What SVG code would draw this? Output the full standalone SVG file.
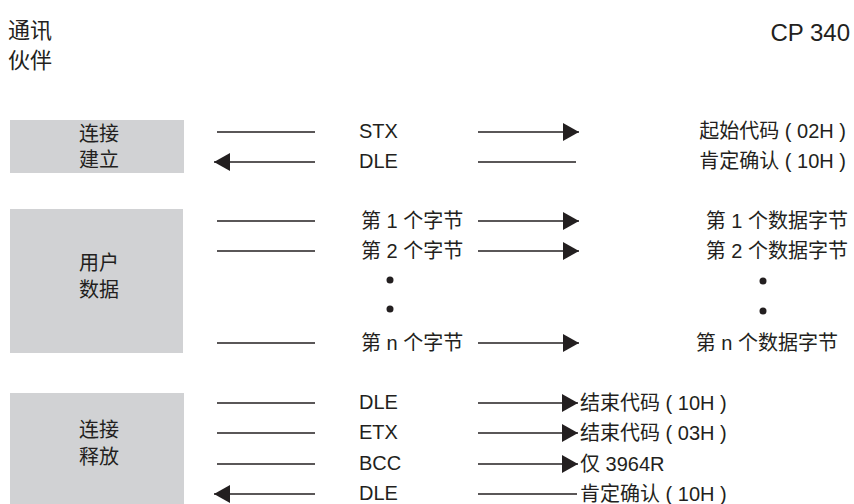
<svg xmlns="http://www.w3.org/2000/svg" width="854" height="504" viewBox="0 0 854 504">
<defs>
<marker id="ah" viewBox="0 0 16 18" refX="16" refY="9" markerWidth="16" markerHeight="18" markerUnits="userSpaceOnUse" orient="auto">
<path d="M0,0 L16,9 L0,18 Z" fill="#231f20"/>
</marker>
<style>
text{font-family:"Liberation Sans","Noto Sans CJK SC",sans-serif;fill:#231f20;font-size:20px}
.hd{font-size:22px}
.cp{font-size:24px}
.box{fill:#d1d2d4}
.ln{stroke:#231f20;stroke-width:1.3;fill:none}
.arr{stroke:#231f20;stroke-width:1.3;fill:none;marker-end:url(#ah)}
.c{text-anchor:middle}
.r{text-anchor:end}
</style>
</defs>
<g id="header">
<text class="hd" x="8" y="38">通讯</text>
<text class="hd" x="8" y="68">伙伴</text>
<text class="cp r" x="850" y="41">CP 340</text>
</g>
<g id="setup">
<rect class="box" x="10" y="120" width="174" height="53"/>
<text class="c" x="99" y="141">连接</text>
<text class="c" x="99" y="167">建立</text>
</g>
<g id="userdata">
<rect class="box" x="10" y="209" width="173" height="144"/>
<text class="c" x="99" y="270">用户</text>
<text class="c" x="99" y="297">数据</text>
</g>
<g id="release">
<rect class="box" x="10" y="393" width="174" height="111"/>
<text class="c" x="99" y="437">连接</text>
<text class="c" x="99" y="464">释放</text>
</g>
<g id="connectors">
<line class="ln" x1="217" y1="132" x2="315" y2="132"/>
<line class="arr" x1="315" y1="162" x2="214" y2="162"/>
<line class="arr" x1="478" y1="132" x2="579" y2="132"/>
<line class="ln" x1="478" y1="162" x2="576" y2="162"/>
<line class="ln" x1="217" y1="221" x2="315" y2="221"/>
<line class="ln" x1="217" y1="251" x2="315" y2="251"/>
<line class="ln" x1="217" y1="343" x2="315" y2="343"/>
<line class="arr" x1="478" y1="221" x2="579" y2="221"/>
<line class="arr" x1="478" y1="251" x2="579" y2="251"/>
<line class="arr" x1="478" y1="343" x2="579" y2="343"/>
<line class="ln" x1="217" y1="403" x2="315" y2="403"/>
<line class="ln" x1="217" y1="433" x2="315" y2="433"/>
<line class="ln" x1="217" y1="464" x2="315" y2="464"/>
<line class="arr" x1="315" y1="494" x2="214" y2="494"/>
<line class="arr" x1="478" y1="403" x2="578" y2="403"/>
<line class="arr" x1="478" y1="433" x2="578" y2="433"/>
<line class="arr" x1="478" y1="464" x2="578" y2="464"/>
<line class="ln" x1="478" y1="494" x2="577" y2="494"/>
</g>
<g id="labels">
<text x="359" y="138">STX</text>
<text x="359" y="168">DLE</text>
<text class="r" x="846" y="138">起始代码 ( 02H )</text>
<text class="r" x="846" y="168">肯定确认 ( 10H )</text>
<text x="361" y="228">第 1 个字节</text>
<text x="361" y="258">第 2 个字节</text>
<text x="361" y="350">第 n 个字节</text>
<circle cx="390" cy="280" r="3.5" fill="#231f20"/>
<circle cx="390" cy="309" r="3.5" fill="#231f20"/>
<text class="r" x="848" y="228">第 1 个数据字节</text>
<text class="r" x="848" y="258">第 2 个数据字节</text>
<text class="r" x="838" y="350">第 n 个数据字节</text>
<circle cx="763" cy="281" r="3.5" fill="#231f20"/>
<circle cx="763" cy="311" r="3.5" fill="#231f20"/>
<text x="359" y="409">DLE</text>
<text x="359" y="439">ETX</text>
<text x="359" y="470">BCC</text>
<text x="359" y="500">DLE</text>
<text x="580" y="410">结束代码 ( 10H )</text>
<text x="580" y="440">结束代码 ( 03H )</text>
<text x="580" y="471">仅 3964R</text>
<text x="580" y="501">肯定确认 ( 10H )</text>
</g>
</svg>
